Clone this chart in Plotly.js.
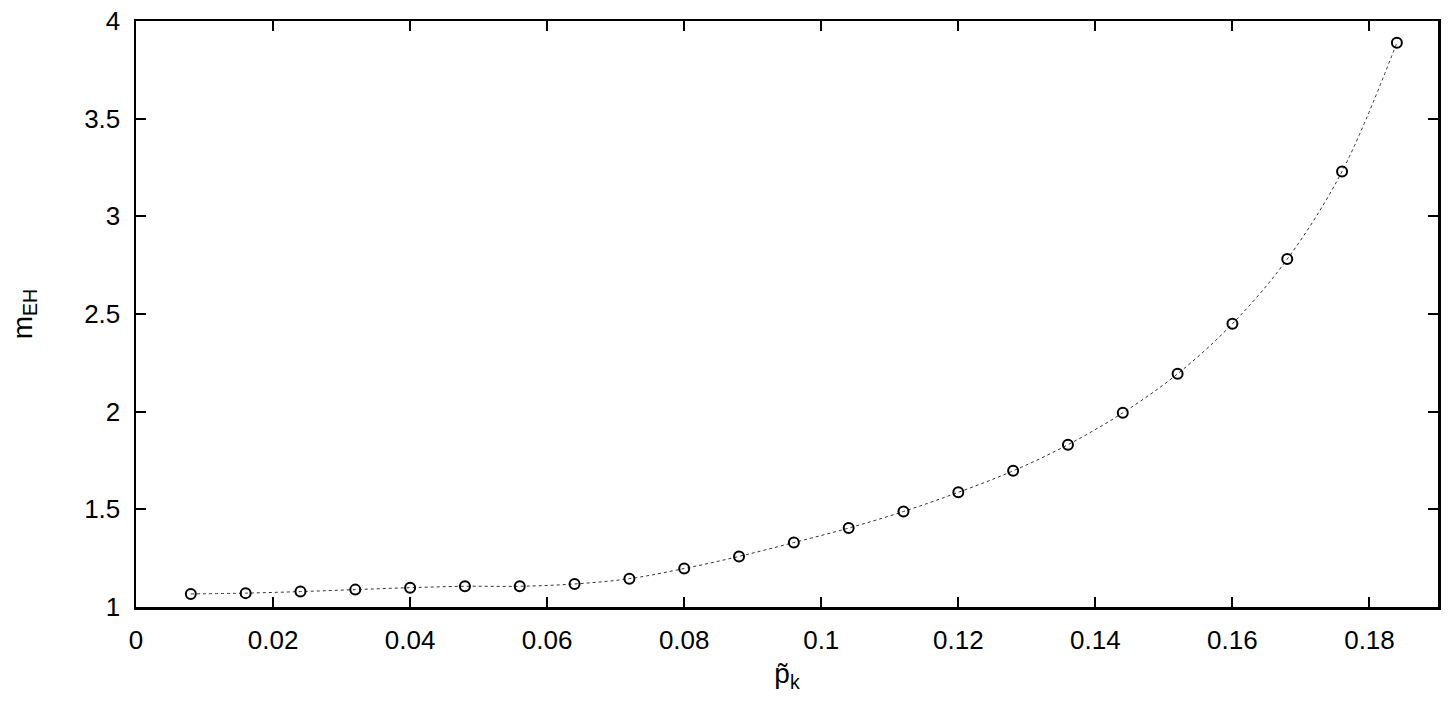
<!DOCTYPE html>
<html>
<head>
<meta charset="utf-8">
<script src="https://cdn.plot.ly/plotly-3.0.1.min.js"></script>
<style>html,body{margin:0;padding:0;background:#fff;}#chart{width:1450px;height:717px;}</style>
</head>
<body>
<div id="chart"></div>
<script>
const pk = [0.008, 0.016, 0.024, 0.032, 0.040, 0.048, 0.056, 0.064, 0.072, 0.080, 0.088, 0.096,
            0.104, 0.112, 0.120, 0.128, 0.136, 0.144, 0.152, 0.160, 0.168, 0.176, 0.184];
const mEH = [1.067, 1.071, 1.079, 1.089, 1.099, 1.106, 1.106, 1.118, 1.145, 1.197, 1.259, 1.330,
             1.404, 1.489, 1.587, 1.697, 1.831, 1.994, 2.194, 2.450, 2.781, 3.230, 3.889];
const xTitle = 'p\u0303<sub>k</sub>';
const yTitle = 'm<sub>EH</sub>';

const font = {family: 'Liberation Sans, Arial, sans-serif', color: '#000'};

Plotly.newPlot('chart', [{
  x: pk, y: mEH, type: 'scatter', mode: 'lines+markers',
  line: {color: '#333', width: 1, dash: 'dot', shape: 'spline'},
  marker: {symbol: 'circle-open', size: 10, color: '#000', line: {width: 2, color: '#000'}},
  showlegend: false
}], {
  width: 1450, height: 717,
  margin: {l: 136, r: 12, t: 21, b: 110},
  paper_bgcolor: '#fff', plot_bgcolor: '#fff',
  font: Object.assign({size: 26}, font),
  xaxis: {
    range: [0, 0.19], dtick: 0.02, tick0: 0,
    ticks: 'inside', ticklen: 10, tickwidth: 2, tickcolor: '#000',
    showline: true, linewidth: 2.5, linecolor: '#000', mirror: 'ticks',
    showgrid: false, zeroline: false,
    tickfont: Object.assign({size: 26}, font),
    ticklabelstandoff: 8,
    title: {text: xTitle, font: Object.assign({size: 28}, font), standoff: 10}
  },
  yaxis: {
    range: [1, 4], dtick: 0.5, tick0: 1,
    ticks: 'inside', ticklen: 10, tickwidth: 2, tickcolor: '#000',
    showline: true, linewidth: 2.5, linecolor: '#000', mirror: 'ticks',
    showgrid: false, zeroline: false,
    tickfont: Object.assign({size: 26}, font),
    ticklabelstandoff: 8,
    title: {text: yTitle, font: Object.assign({size: 28}, font), standoff: 44}
  }
}, {displayModeBar: false, staticPlot: true});
</script>
</body>
</html>
